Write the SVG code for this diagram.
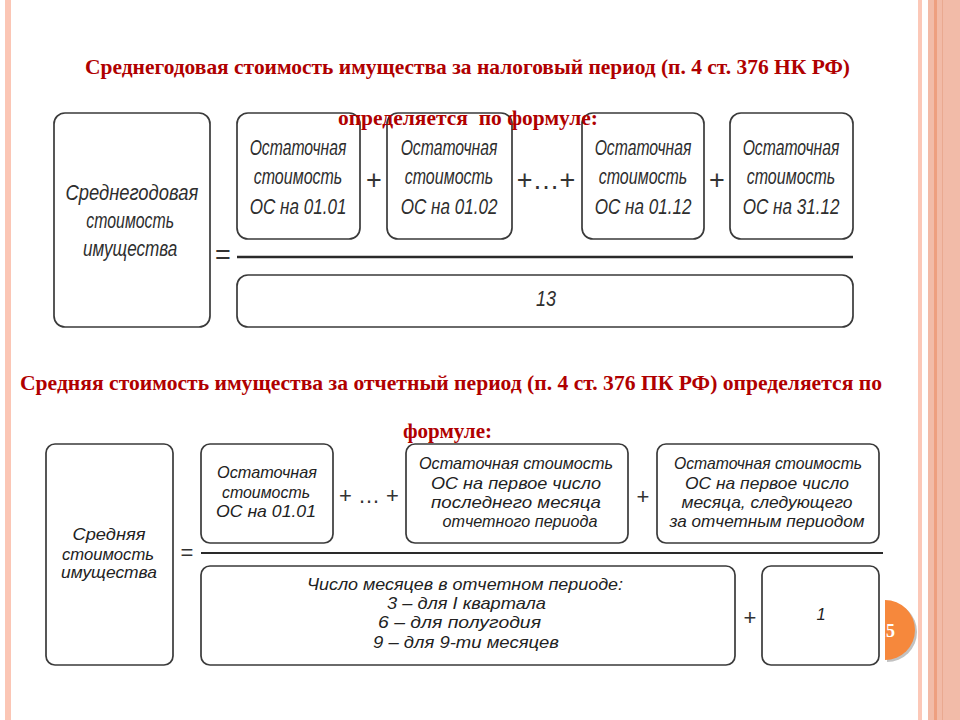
<svg xmlns="http://www.w3.org/2000/svg" width="960" height="720" viewBox="0 0 960 720">
<style>
.title{font-family:"Liberation Serif","Times New Roman",serif;font-weight:bold;fill:#b00000;font-size:22px;}
.box{fill:#fff;stroke:#3a3a3a;stroke-width:1.7;}
.t1{font-family:"Liberation Sans",Arial,sans-serif;font-style:italic;font-size:22px;fill:#2e2e2e;text-anchor:middle;}
.t2{font-family:"Liberation Sans",Arial,sans-serif;font-style:italic;font-size:16.5px;fill:#222;}
.t2m{text-anchor:middle;}
.op1{font-family:"Liberation Sans",Arial,sans-serif;font-size:27px;fill:#333;text-anchor:middle;}
.op2{font-family:"Liberation Sans",Arial,sans-serif;font-size:22px;fill:#333;text-anchor:middle;}
.bar{stroke:#2a2a2a;}
</style>
<rect x="0" y="0" width="960" height="720" fill="#fff"/>
<g id="decor">
<rect x="5" y="0" width="6" height="720" fill="#fbc6b5"/>
<rect x="918" y="0" width="4" height="720" fill="#fcc8b8"/>
<rect x="928" y="0" width="32" height="720" fill="#f2bba8"/>
<rect x="934" y="0" width="3" height="720" fill="#ee9f80"/>
<rect x="942" y="0" width="1" height="720" fill="#eaa990"/>
</g>
<g id="page-number">
<path d="M887,602 A30,30 0 0 1 887,662 Z" fill="#9a9a9a" opacity="0.6"/>
<path d="M885,600 A30,30 0 0 1 885,660 Z" fill="#f6883c"/>
<text x="877" y="637" font-family="Liberation Serif,serif" font-weight="bold" font-size="18" fill="#fff">15</text>
</g>

<!-- Formula 1 -->
<g id="f1-result">
<rect class="box" x="54" y="113" width="156" height="214" rx="11"/>
<g transform="translate(131,0) scale(0.82,1)">
<text class="t1" x="1" y="200" textLength="162" lengthAdjust="spacingAndGlyphs">Среднегодовая</text>
<text class="t1" x="-1" y="228" textLength="107" lengthAdjust="spacingAndGlyphs">стоимость</text>
<text class="t1" x="-1" y="256" textLength="115" lengthAdjust="spacingAndGlyphs">имущества</text>
</g>
</g>
<g id="f1-os-0101">
<rect class="box" x="237" y="113" width="123" height="126" rx="11"/>
<g transform="translate(298,0) scale(0.82,1)">
<text class="t1" x="0" y="155" textLength="118" lengthAdjust="spacingAndGlyphs">Остаточная</text>
<text class="t1" x="0" y="184" textLength="108" lengthAdjust="spacingAndGlyphs">стоимость</text>
<text class="t1" x="0" y="214" textLength="118" lengthAdjust="spacingAndGlyphs">ОС на 01.01</text>
</g>
</g>
<g id="f1-os-0102">
<rect class="box" x="387" y="113" width="125" height="126" rx="11"/>
<g transform="translate(449,0) scale(0.82,1)">
<text class="t1" x="0" y="155" textLength="118" lengthAdjust="spacingAndGlyphs">Остаточная</text>
<text class="t1" x="0" y="184" textLength="108" lengthAdjust="spacingAndGlyphs">стоимость</text>
<text class="t1" x="0" y="214" textLength="118" lengthAdjust="spacingAndGlyphs">ОС на 01.02</text>
</g>
</g>
<g id="f1-os-0112">
<rect class="box" x="582" y="113" width="122" height="126" rx="11"/>
<g transform="translate(643,0) scale(0.82,1)">
<text class="t1" x="0" y="155" textLength="118" lengthAdjust="spacingAndGlyphs">Остаточная</text>
<text class="t1" x="0" y="184" textLength="108" lengthAdjust="spacingAndGlyphs">стоимость</text>
<text class="t1" x="0" y="214" textLength="118" lengthAdjust="spacingAndGlyphs">ОС на 01.12</text>
</g>
</g>
<g id="f1-os-3112">
<rect class="box" x="730" y="113" width="123" height="126" rx="11"/>
<g transform="translate(791,0) scale(0.82,1)">
<text class="t1" x="0" y="155" textLength="118" lengthAdjust="spacingAndGlyphs">Остаточная</text>
<text class="t1" x="0" y="184" textLength="108" lengthAdjust="spacingAndGlyphs">стоимость</text>
<text class="t1" x="0" y="214" textLength="118" lengthAdjust="spacingAndGlyphs">ОС на 31.12</text>
</g>
</g>
<g id="f1-denominator">
<rect class="box" x="237" y="275" width="616" height="52" rx="11"/>
<g transform="translate(546,0) scale(0.82,1)">
<text class="t1" x="0" y="306" font-size="23">13</text>
</g>
</g>

<!-- Formula 2 -->
<g id="f2-result">
<rect class="box" x="46" y="444" width="127" height="221" rx="9"/>
<text class="t2 t2m" x="109" y="540" textLength="73" lengthAdjust="spacingAndGlyphs">Средняя</text>
<text class="t2 t2m" x="108" y="560" textLength="92" lengthAdjust="spacingAndGlyphs">стоимость</text>
<text class="t2 t2m" x="109" y="578" textLength="96" lengthAdjust="spacingAndGlyphs">имущества</text>
</g>
<g id="f2-os-0101">
<rect class="box" x="201" y="444" width="132" height="99" rx="9"/>
<text class="t2 t2m" x="267" y="478" textLength="100" lengthAdjust="spacingAndGlyphs">Остаточная</text>
<text class="t2 t2m" x="266" y="498" textLength="88" lengthAdjust="spacingAndGlyphs">стоимость</text>
<text class="t2 t2m" x="266" y="517" textLength="100" lengthAdjust="spacingAndGlyphs">ОС на 01.01</text>
</g>
<g id="f2-os-last-month">
<rect class="box" x="406" y="444" width="222" height="99" rx="9"/>
<text class="t2 t2m" x="516" y="469" textLength="194" lengthAdjust="spacingAndGlyphs">Остаточная стоимость</text>
<text class="t2 t2m" x="516" y="489" textLength="170" lengthAdjust="spacingAndGlyphs">ОС на первое число</text>
<text class="t2 t2m" x="516" y="508" textLength="170" lengthAdjust="spacingAndGlyphs">последнего месяца</text>
<text class="t2 t2m" x="520" y="527" textLength="155" lengthAdjust="spacingAndGlyphs">отчетного периода</text>
</g>
<g id="f2-os-next-month">
<rect class="box" x="657" y="444" width="222" height="99" rx="9"/>
<text class="t2 t2m" x="768" y="469" textLength="188" lengthAdjust="spacingAndGlyphs">Остаточная стоимость</text>
<text class="t2 t2m" x="767" y="489" textLength="164" lengthAdjust="spacingAndGlyphs">ОС на первое число</text>
<text class="t2 t2m" x="767" y="508" textLength="171" lengthAdjust="spacingAndGlyphs">месяца, следующего</text>
<text class="t2 t2m" x="767" y="527" textLength="195" lengthAdjust="spacingAndGlyphs">за отчетным периодом</text>
</g>
<g id="f2-months">
<rect class="box" x="201" y="566" width="534" height="99" rx="9"/>
<text class="t2" x="307" y="590" textLength="316" lengthAdjust="spacingAndGlyphs">Число месяцев в отчетном периоде:</text>
<text class="t2" x="387" y="609" textLength="159" lengthAdjust="spacingAndGlyphs">3 – для I квартала</text>
<text class="t2" x="378" y="628" textLength="163" lengthAdjust="spacingAndGlyphs">6 – для полугодия</text>
<text class="t2" x="373" y="648" textLength="186" lengthAdjust="spacingAndGlyphs">9 – для 9-ти месяцев</text>
</g>
<g id="f2-one">
<rect class="box" x="762" y="566" width="117" height="99" rx="9"/>
<text class="t2 t2m" x="821" y="620">1</text>
</g>

<g id="connectors">
<line class="bar" x1="237" y1="257" x2="853" y2="257" stroke-width="2.5"/>
<line class="bar" x1="201" y1="553" x2="883" y2="553" stroke-width="2"/>
<text class="op1" x="223" y="264" font-size="26">=</text>
<text class="op1" x="374" y="189">+</text>
<text class="op1" x="546" y="189">+…+</text>
<text class="op1" x="717" y="189">+</text>
<text class="op2" x="187" y="560">=</text>
<text class="op2" x="369" y="503">+ … +</text>
<text class="op2" x="643" y="504">+</text>
<text class="op2" x="750" y="625">+</text>
</g>

<g id="titles">
<text class="title" x="85" y="74" textLength="765" lengthAdjust="spacingAndGlyphs">Среднегодовая стоимость имущества за налоговый период (п. 4 ст. 376 НК РФ)</text>
<text class="title" x="338" y="125" textLength="260" lengthAdjust="spacingAndGlyphs" xml:space="preserve">определяется  по формуле:</text>
<text class="title" x="20" y="390" textLength="862" lengthAdjust="spacingAndGlyphs">Средняя стоимость имущества за отчетный период (п. 4 ст. 376 ПК РФ) определяется по</text>
<text class="title" x="403" y="438" textLength="89" lengthAdjust="spacingAndGlyphs">формуле:</text>
</g>
</svg>
